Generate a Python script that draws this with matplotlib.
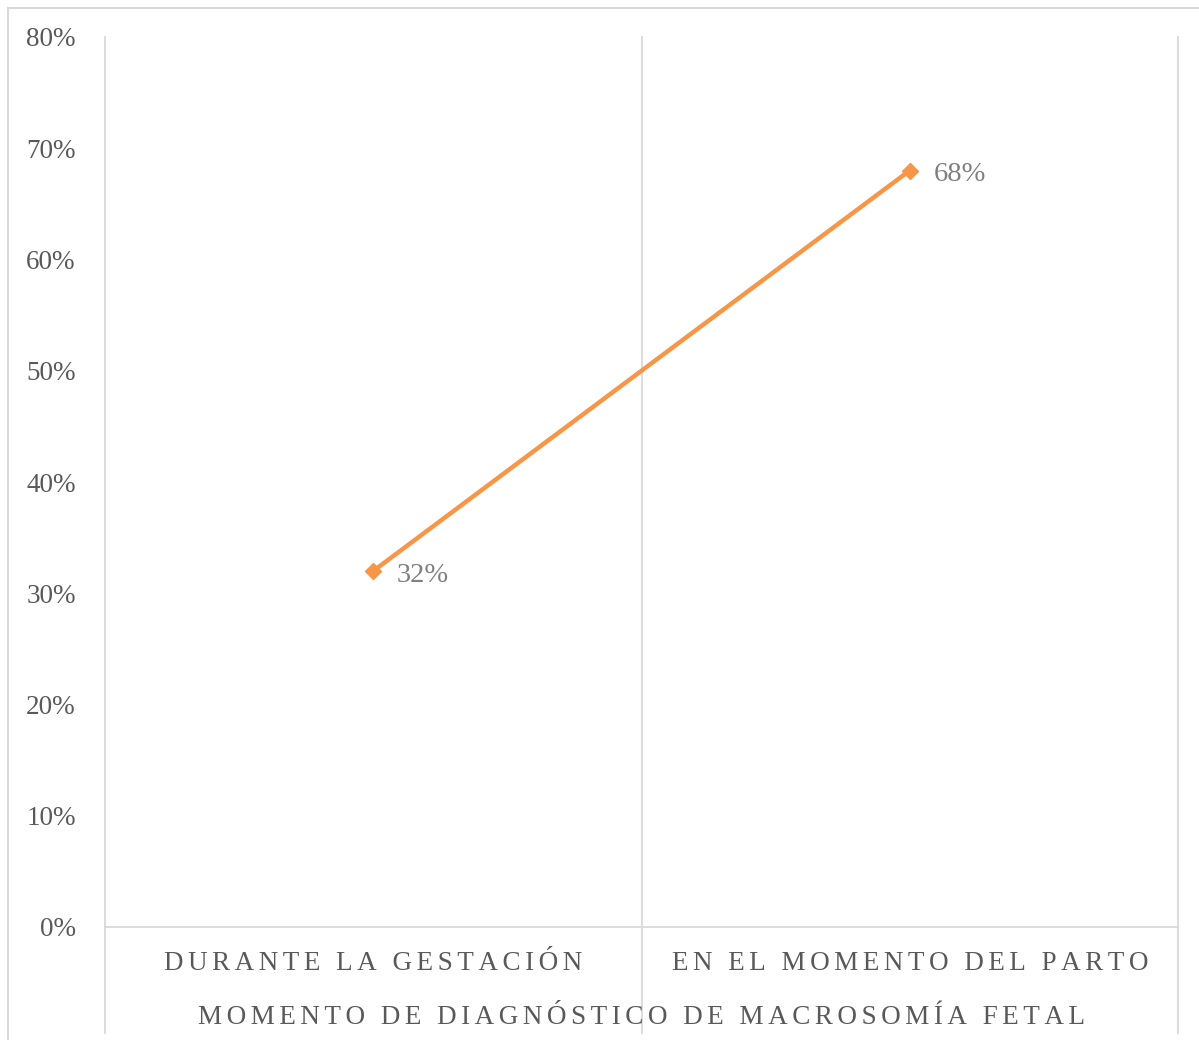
import matplotlib
matplotlib.use("Agg")
import matplotlib.pyplot as plt
from matplotlib.lines import Line2D
from matplotlib.ticker import FuncFormatter

# Data
categories = ["DURANTE LA GESTACIÓN", "EN EL MOMENTO DEL PARTO"]
values = [0.32, 0.68]
y_ticks = [0.0, 0.1, 0.2, 0.3, 0.4, 0.5, 0.6, 0.7, 0.8]
axis_title = "MOMENTO DE DIAGNÓSTICO DE MACROSOMÍA FETAL"

LINE_COLOR = "#F79646"
GRID_COLOR = "#D9D9D9"
TEXT_COLOR = "#595959"
LABEL_COLOR = "#7F7F7F"
SIX_PER_EM = "\u2006"


def spaced(s):
    """Letter-spaced caps, as used on the category axis."""
    return SIX_PER_EM.join(s)


plt.rcParams["font.family"] = ["Liberation Serif", "DejaVu Serif"]

W, H = 1199, 1040
fig = plt.figure(figsize=(W / 100, H / 100), dpi=100)
ax = fig.add_axes([105 / W, 1 - 927 / H, (1178 - 105) / W, (927 - 37) / H])

x = list(range(len(categories)))
ax.plot(x, values, color=LINE_COLOR, lw=3.2, marker="D", ms=8.5,
        solid_capstyle="round", zorder=5)

for xi, v in zip(x, values):
    ax.annotate(f"{v * 100:.0f}%", (xi, v), xytext=(17, -3),
                textcoords="offset points", ha="left", va="center",
                fontsize=20.5, color=LABEL_COLOR)

ax.set_xlim(-0.5, len(categories) - 0.5)
ax.set_ylim(0, 0.8)
ax.set_yticks(y_ticks)
ax.yaxis.set_major_formatter(FuncFormatter(lambda v, p: f"{v * 100:.0f}%"))
ax.tick_params(axis="y", length=0, pad=21, labelsize=19.5, labelcolor=TEXT_COLOR)

ax.set_xticks(x)
ax.set_xticklabels([spaced(c) for c in categories])
ax.tick_params(axis="x", length=0, pad=17, labelsize=19.5, labelcolor=TEXT_COLOR)
ax.set_xlabel(spaced(axis_title), fontsize=19.5, color=TEXT_COLOR, labelpad=21.5)

for s in ["top", "right", "left"]:
    ax.spines[s].set_visible(False)
ax.spines["bottom"].set_color(GRID_COLOR)
ax.spines["bottom"].set_linewidth(1.3)

# Category separators running down past the axis
y_bot = (927 - 1033) / (927 - 37)
for b in [-0.5 + i for i in range(len(categories) + 1)]:
    ax.plot([b, b], [y_bot * 0.8, 0.8], color=GRID_COLOR, lw=1.3,
            clip_on=False, zorder=1)

# Chart area frame (top and left edges)
fig.add_artist(Line2D([8 / W, 1], [1 - 8 / H, 1 - 8 / H], color=GRID_COLOR,
                      lw=1.5, transform=fig.transFigure))
fig.add_artist(Line2D([8 / W, 8 / W], [0, 1 - 8 / H], color=GRID_COLOR,
                      lw=1.5, transform=fig.transFigure))

fig.savefig("out.png", dpi=100, facecolor="white")
